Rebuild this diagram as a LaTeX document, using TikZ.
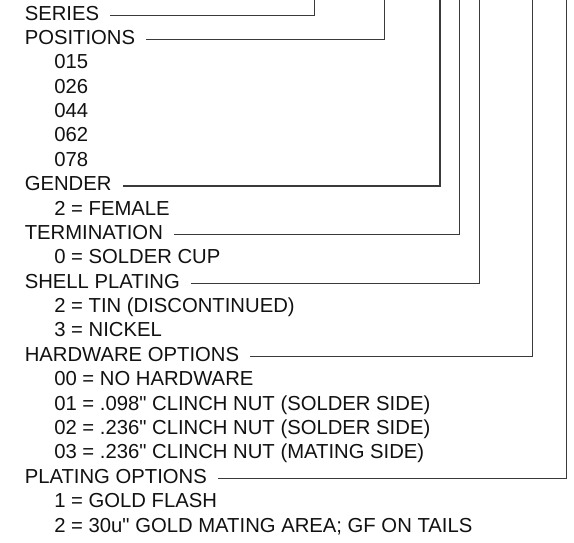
\documentclass[tikz,border=0pt]{standalone}
\usepackage{fontspec}
\setmainfont{Liberation Sans}[Ligatures=TeXOff]
\usepackage{xcolor}
\usepackage{tikz}
\definecolor{ink}{HTML}{111111}
\definecolor{lead}{HTML}{3A3A3A}
\tikzset{
  fig/.style={line join=miter,x=0.75pt,y=-0.75pt},
  hd/.style={anchor=west,inner sep=0pt,text height=0.716em,text depth=0pt,
    font=\fontsize{15.2}{18}\selectfont,text=ink},
  opt/.style={hd},
  leader/.style={lead,line width=0.8pt}
}

\begin{document}
\begin{tikzpicture}[fig]
  \useasboundingbox(0,0)rectangle(574,542);
  % top ends of the leaders
  \coordinate(topSeries)at(314.3,0);
  \coordinate(topPos)at(384.3,0);
  \coordinate(topGender)at(440,0);
  \coordinate(topTerm)at(459.3,0);
  \coordinate(topShell)at(479.3,0);
  \coordinate(topHw)at(532.7,0);
  \coordinate(topPlating)at(566.7,0);
  % field names and their values
  \node[hd](series)at(24.5,15.3){SERIES};
  \node[hd](pos)at(24.5,39.7){POSITIONS};
  \node[opt](pos015)at(54,64.1){015};
  \node[opt](pos026)at(54,88.4){026};
  \node[opt](pos044)at(54,112.8){044};
  \node[opt](pos062)at(54,137.2){062};
  \node[opt](pos078)at(54,161.6){078};
  \node[hd](gender)at(24.5,186.0){GENDER};
  \node[opt](female)at(54,210.3){2 = FEMALE};
  \node[hd](term)at(24.5,234.7){TERMINATION};
  \node[opt](cup)at(54,259.1){0 = SOLDER CUP};
  \node[hd](shell)at(24.5,283.5){SHELL PLATING};
  \node[opt](tin)at(54,307.9){2 = TIN (DISCONTINUED)};
  \node[opt](nickel)at(54,332.2){3 = NICKEL};
  \node[hd](hw)at(24.5,356.6){HARDWARE OPTIONS};
  \node[opt](hw00)at(54,381.0){00 = NO HARDWARE};
  \node[opt](hw01)at(54,405.4){01 = .098" CLINCH NUT (SOLDER SIDE)};
  \node[opt](hw02)at(54,429.8){02 = .236" CLINCH NUT (SOLDER SIDE)};
  \node[opt](hw03)at(54,454.1){03 = .236" CLINCH NUT (MATING SIDE)};
  \node[hd](plating)at(24.5,478.5){PLATING OPTIONS};
  \node[opt](flash)at(54,502.9){1 = GOLD FLASH};
  \node[opt](gold30)at(54,527.3){2 = 30u" GOLD MATING AREA; GF ON TAILS};
  % leaders up to the part number
  \draw[leader]([xshift=8.3pt]series.east)-|(topSeries);
  \draw[leader]([xshift=8.3pt]pos.east)-|(topPos);
  \draw[leader]([xshift=8.3pt]gender.east)-|(topGender);
  \draw[leader]([xshift=8.3pt]term.east)-|(topTerm);
  \draw[leader]([xshift=8.3pt]shell.east)-|(topShell);
  \draw[leader]([xshift=8.3pt]hw.east)-|(topHw);
  \draw[leader]([xshift=8.3pt]plating.east)-|(topPlating);
\end{tikzpicture}
\end{document}
